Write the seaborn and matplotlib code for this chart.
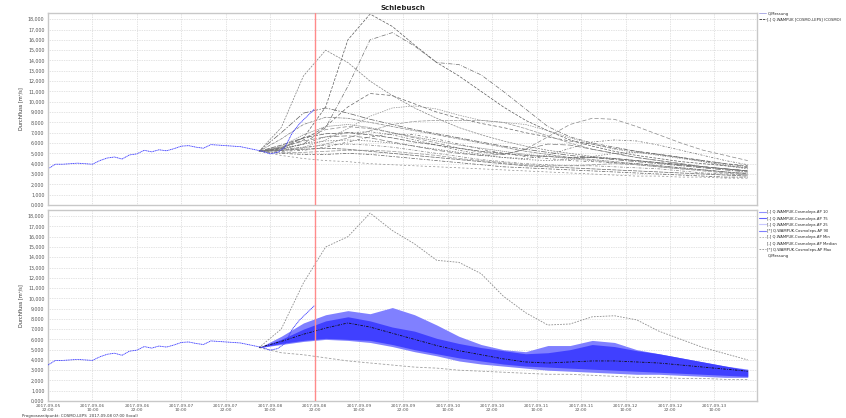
import numpy as np
import pandas as pd
import matplotlib
matplotlib.use("Agg")
import matplotlib.pyplot as plt
import matplotlib.dates as mdates
from matplotlib.ticker import FuncFormatter, MultipleLocator
from matplotlib.lines import Line2D
import seaborn as sns

# ---------------- data ----------------
title = "Schlebusch"
y_label = "Durchfluss [m³/s]"
t0 = "2017-09-08 22:00"          # red line (forecast time)
obs_start = "2017-09-05 22:00"   # observed, every 2 h
obs_values = [3.5, 3.95, 3.95, 4.0, 4.05, 4.0, 3.95, 4.3, 4.55, 4.65, 4.45, 4.85,
              4.95, 5.3, 5.15, 5.35, 5.25, 5.45, 5.7, 5.75, 5.6, 5.5, 5.85, 5.8,
              5.75, 5.7, 5.65, 5.5, 5.35, 5.2, 4.95, 5.1, 5.6, 7.0, 7.9, 8.6, 9.3]

fc_start = "2017-09-08 07:00"    # forecasts, every 6 h
members = {
    "m01": [5.2, 5.5, 6.5, 9.5, 16.0, 18.5, 17.3, 15.5, 13.8, 12.5, 11.0, 9.5, 8.2, 7.2, 6.3, 5.7, 5.2, 4.8, 4.5, 4.2, 4.0, 3.8, 3.6],
    "m02": [5.2, 5.4, 5.9, 7.5, 11.5, 16.0, 16.7, 15.4, 13.8, 13.6, 12.6, 11.0, 9.3, 7.6, 6.6, 6.0, 5.6, 5.2, 4.9, 4.6, 4.3, 4.0, 3.7],
    "m03": [5.2, 7.5, 12.5, 15.0, 13.8, 12.0, 10.6, 9.4, 8.4, 7.5, 6.8, 6.2, 5.7, 5.3, 5.0, 4.7, 4.5, 4.3, 4.1, 3.9, 3.7, 3.5, 3.3],
    "m04": [5.2, 5.5, 6.3, 7.6, 9.5, 10.8, 10.6, 9.8, 9.0, 8.4, 7.9, 7.5, 7.0, 6.6, 6.2, 5.9, 5.5, 5.2, 4.9, 4.6, 4.3, 4.0, 3.8],
    "m05": [5.2, 5.3, 5.6, 6.3, 7.4, 8.6, 9.4, 9.6, 9.3, 8.7, 8.2, 8.0, 7.8, 7.2, 6.5, 5.9, 5.4, 5.1, 4.8, 4.5, 4.2, 3.9, 3.6],
    "m06": [5.2, 7.0, 8.9, 9.4, 8.9, 8.3, 7.8, 7.3, 6.9, 6.5, 6.1, 5.7, 5.4, 5.1, 4.8, 4.6, 4.4, 4.2, 4.0, 3.8, 3.6, 3.4, 3.2],
    "m07": [5.2, 6.4, 7.8, 8.5, 8.4, 8.0, 7.6, 7.2, 6.8, 6.4, 6.0, 5.6, 5.2, 4.9, 4.6, 4.4, 4.2, 4.0, 3.8, 3.6, 3.4, 3.2, 3.0],
    "m08": [5.2, 5.6, 6.5, 7.3, 7.6, 7.4, 7.0, 6.5, 6.0, 5.5, 5.1, 4.9, 5.4, 6.6, 7.8, 8.4, 8.3, 7.6, 6.8, 6.0, 5.3, 4.8, 4.3],
    "m09": [5.2, 5.4, 5.9, 6.6, 7.0, 7.1, 6.8, 6.3, 5.8, 5.3, 4.9, 4.6, 4.5, 4.8, 5.5, 6.1, 6.3, 6.2, 5.8, 5.3, 4.8, 4.3, 3.9],
    "m10": [5.2, 5.3, 5.5, 5.9, 6.5, 7.2, 7.8, 8.1, 8.2, 8.2, 8.2, 8.0, 7.4, 6.7, 6.0, 5.4, 5.0, 4.6, 4.3, 4.0, 3.7, 3.5, 3.3],
    "m11": [5.2, 5.8, 6.5, 6.9, 7.0, 6.8, 6.5, 6.1, 5.8, 5.5, 5.2, 5.0, 4.8, 4.7, 4.6, 4.6, 4.5, 4.3, 4.1, 3.9, 3.7, 3.5, 3.3],
    "m12": [5.2, 5.5, 5.9, 6.2, 6.3, 6.2, 6.0, 5.7, 5.4, 5.1, 4.8, 4.6, 4.4, 4.3, 4.4, 4.7, 5.0, 5.1, 4.9, 4.6, 4.2, 3.8, 3.5],
    "m13": [5.2, 5.4, 5.6, 5.8, 5.9, 5.8, 5.6, 5.3, 5.0, 4.7, 4.4, 4.2, 4.0, 3.9, 3.8, 3.8, 3.7, 3.6, 3.5, 3.3, 3.1, 3.0, 2.9],
    "m14": [5.2, 5.3, 5.4, 5.5, 5.4, 5.2, 5.0, 4.8, 4.6, 4.4, 4.2, 4.0, 3.8, 3.7, 3.6, 3.5, 3.4, 3.3, 3.2, 3.1, 3.0, 2.9, 2.8],
    "m15": [5.2, 4.8, 4.5, 4.3, 4.2, 4.0, 3.9, 3.8, 3.7, 3.6, 3.5, 3.4, 3.3, 3.2, 3.1, 3.0, 2.9, 2.8, 2.8, 2.7, 2.7, 2.6, 2.6],
    "m16": [5.2, 5.0, 4.9, 4.9, 5.0, 4.9, 4.7, 4.5, 4.3, 4.1, 3.9, 3.7, 3.6, 3.5, 3.4, 3.3, 3.2, 3.1, 3.0, 2.9, 2.8, 2.7, 2.7],
    "m17": [5.2, 5.6, 6.2, 6.6, 6.7, 6.5, 6.1, 5.7, 5.3, 5.0, 4.8, 4.9, 5.4, 5.9, 5.8, 5.4, 5.0, 4.6, 4.3, 4.0, 3.7, 3.5, 3.3],
    "m18": [5.2, 5.7, 6.8, 7.6, 7.8, 7.5, 7.0, 6.6, 6.2, 5.8, 5.5, 5.2, 4.9, 4.7, 4.5, 4.3, 4.1, 3.9, 3.7, 3.5, 3.4, 3.2, 3.1],
    "m19": [5.2, 5.2, 5.3, 5.6, 6.1, 6.6, 6.9, 6.8, 6.4, 5.9, 5.4, 5.0, 4.7, 4.5, 4.3, 4.2, 4.1, 4.0, 3.8, 3.6, 3.4, 3.2, 3.0],
    "m20": [5.2, 5.1, 5.1, 5.2, 5.3, 5.3, 5.2, 5.0, 4.8, 4.5, 4.3, 4.1, 3.9, 3.8, 3.8, 3.9, 4.0, 3.9, 3.7, 3.5, 3.3, 3.1, 2.9],
}

p_min = [5.2, 4.7, 4.5, 4.2, 3.9, 3.7, 3.5, 3.3, 3.2, 3.0, 2.9, 2.8, 2.7, 2.6, 2.6, 2.5, 2.4, 2.3, 2.3, 2.2, 2.2, 2.1, 2.1]
p10 = [5.2, 5.5, 5.8, 6.0, 5.9, 5.7, 5.3, 4.8, 4.4, 3.9, 3.6, 3.4, 3.2, 3.0, 2.9, 2.8, 2.7, 2.6, 2.6, 2.5, 2.4, 2.3, 2.3]
p25 = [5.2, 5.6, 5.9, 6.1, 6.0, 5.9, 5.5, 5.0, 4.6, 4.2, 3.9, 3.6, 3.4, 3.3, 3.2, 3.1, 3.0, 2.9, 2.8, 2.7, 2.6, 2.5, 2.4]
p_med = [5.2, 5.8, 6.5, 7.1, 7.6, 7.2, 6.6, 6.0, 5.4, 4.9, 4.5, 4.1, 3.8, 3.7, 3.8, 3.9, 3.9, 3.8, 3.7, 3.5, 3.3, 3.1, 2.9]
p75 = [5.2, 6.0, 7.0, 7.8, 8.2, 7.8, 7.2, 6.8, 6.1, 5.6, 5.2, 4.9, 4.6, 4.7, 5.0, 5.5, 5.3, 4.9, 4.6, 4.2, 3.8, 3.4, 3.0]
p90 = [5.2, 6.3, 7.6, 8.4, 8.8, 8.5, 9.1, 8.4, 7.4, 6.3, 5.5, 5.0, 4.8, 5.4, 5.4, 5.9, 5.7, 5.0, 4.6, 4.2, 3.8, 3.4, 3.1]
p_max = [5.2, 7.0, 11.5, 15.0, 16.0, 18.3, 16.6, 15.3, 13.7, 13.5, 12.4, 10.2, 8.6, 7.4, 7.5, 8.2, 8.3, 7.9, 6.8, 6.0, 5.2, 4.6, 4.0]

upper_legend = ["Q.Messung", "[-] Q.WAMPUK [COSMO-LEPS] (COSMO)"]
lower_legend = ["[-] Q.WAMPUK.Cosmoleps.AP 10", "[-] Q.WAMPUK.Cosmoleps.AP 75",
                "[-] Q.WAMPUK.Cosmoleps.AP 25", "[*] Q.WAMPUK.Cosmoleps.AP 90",
                "[-] Q.WAMPUK.Cosmoleps.AP Min", "[-] Q.WAMPUK.Cosmoleps.AP Median",
                "[*] Q.WAMPUK.Cosmoleps.AP Max", "Q.Messung"]
footer = "Prognosezeitpunkt: COSMO-LEPS  2017-09-08 07:00 (local)"

# ---------------- frames ----------------
obs_time = pd.date_range(obs_start, periods=len(obs_values), freq="2h")
obs = pd.DataFrame({"time": obs_time, "value": obs_values})
fc_time = pd.date_range(fc_start, periods=len(p_med), freq="6h")
ens = pd.concat([pd.DataFrame({"time": fc_time, "value": v, "member": k})
                 for k, v in members.items()], ignore_index=True)

# ---------------- style ----------------
sns.set_style("white")
plt.rcParams["font.family"] = ["DejaVu Sans"]

fig = plt.figure(figsize=(8.46, 4.18), dpi=100)
ax1 = fig.add_axes([0.0567, 0.5096, 0.8381, 0.4593])
ax2 = fig.add_axes([0.0567, 0.0407, 0.8381, 0.4569], sharex=ax1)

xmin = pd.Timestamp("2017-09-05 22:00")
xmax = pd.Timestamp("2017-09-13 21:30")
tick_times = pd.date_range("2017-09-05 22:00", "2017-09-13 10:00", freq="12h")

yfmt = FuncFormatter(lambda v, _: f"{v:.3f}".replace(".", ","))

for ax in (ax1, ax2):
    ax.set_xlim(xmin, xmax)
    ax.set_ylim(0, 18.6)
    ax.yaxis.set_major_locator(MultipleLocator(1))
    ax.yaxis.set_major_formatter(yfmt)
    ax.set_xticks(tick_times)
    ax.grid(True, color="#c8c8c8", linestyle=(0, (1, 1.5)), linewidth=0.5)
    ax.set_axisbelow(True)
    for s in ax.spines.values():
        s.set_color("#c8c8c8")
        s.set_linewidth(1.0)
    ax.tick_params(axis="both", labelsize=3.4, length=1.5, width=0.4,
                   colors="#555555", pad=1)
    ax.axvline(pd.Timestamp(t0), color="#ff8a8a", linewidth=1.0, zorder=6)

ax1.xaxis.set_major_formatter(mdates.DateFormatter("%Y-%m-%d\n%H:%M"))
plt.setp(ax1.get_xticklabels(), visible=False)
ax1.tick_params(axis="x", length=0)
ax2.xaxis.set_major_formatter(mdates.DateFormatter("%Y-%m-%d\n%H:%M"))
ax2.tick_params(axis="x", labelsize=3.2, pad=0.8)
for lab in ax2.get_xticklabels():
    lab.set_linespacing(1.0)

# ---------------- upper panel ----------------
grays = ["#5a5a5a", "#707070", "#808080", "#666666", "#909090",
         "#5f5f5f", "#7a7a7a", "#888888", "#6a6a6a", "#959595"] * 2
dash_list = [(4, 2), (6, 2, 1, 2), (3, 1.5), (5, 3), (2, 1.5),
             (8, 2, 2, 2), (4, 1, 1, 1), (6, 3), (3, 2, 1, 2), (5, 1.5),
             (7, 2), (2, 2), (4, 2, 1, 2), (6, 1.5), (3, 3),
             (5, 2, 2, 2), (8, 3), (2, 1), (4, 3, 1, 3), (6, 2)]
sns.lineplot(data=ens, x="time", y="value", hue="member", style="member",
             palette=grays, dashes=dash_list, linewidth=0.5, legend=False,
             estimator=None, ax=ax1)
sns.lineplot(data=obs, x="time", y="value", color="#3a3aff", linewidth=0.6,
             linestyle=(0, (1.5, 0.6)), ax=ax1)
ax1.set_xlabel("")
ax1.set_ylabel(y_label, fontsize=3.6, labelpad=3, color="#333333")
ax1.set_title(title, fontsize=5, fontweight="bold", pad=2)

# ---------------- lower panel ----------------
ax2.fill_between(fc_time, p10, p90, color="#8080ff", linewidth=0, zorder=2)
ax2.fill_between(fc_time, p25, p75, color="#4040ff", linewidth=0, zorder=3)
stat = pd.DataFrame({"time": fc_time, "min": p_min, "med": p_med, "max": p_max})
sns.lineplot(data=stat, x="time", y="max", color="#8c8c8c", linewidth=0.6,
             linestyle=(0, (2, 1.5)), ax=ax2, zorder=4)
sns.lineplot(data=stat, x="time", y="min", color="#a0a0a0", linewidth=0.6,
             linestyle=(0, (3, 2)), ax=ax2, zorder=4)
sns.lineplot(data=stat, x="time", y="med", color="#101010", linewidth=0.6,
             linestyle=(0, (3, 1.5, 1, 1.5)), ax=ax2, zorder=5)
sns.lineplot(data=obs, x="time", y="value", color="#3a3aff", linewidth=0.6,
             linestyle=(0, (1.5, 0.6)), ax=ax2, zorder=5)
ax2.set_xlabel("")
ax2.set_ylabel(y_label, fontsize=3.6, labelpad=3, color="#333333")

# ---------------- legends ----------------
leg_kw = dict(loc="upper left", frameon=False, fontsize=2.7, handlelength=1.8,
              handletextpad=0.5, borderaxespad=0, borderpad=0)
h_up = [Line2D([], [], color="#a0a0e0", lw=0.6),
        Line2D([], [], color="#333333", lw=0.6, linestyle=(0, (3, 1)))]
fig.legend(h_up, upper_legend, bbox_to_anchor=(0.897, 0.972),
           labelspacing=0.45, **leg_kw)
h_lo = [Line2D([], [], color="#9090ff", lw=0.8),
        Line2D([], [], color="#6060ff", lw=0.8),
        Line2D([], [], color="#c8c8ff", lw=0.8),
        Line2D([], [], color="#8080ff", lw=0.8),
        Line2D([], [], color="#b0b0b0", lw=0.6, linestyle=(0, (2, 1.5))),
        Line2D([], [], color="white", lw=0.6),
        Line2D([], [], color="#909090", lw=0.6, linestyle=(0, (2, 1.5))),
        Line2D([], [], color="white", lw=0.6)]
fig.legend(h_lo, lower_legend, bbox_to_anchor=(0.897, 0.497),
           labelspacing=0.6, **leg_kw)

fig.text(0.026, 0.0, footer, fontsize=2.8, color="#333333", ha="left", va="bottom")

fig.savefig("out.png", dpi=100)
